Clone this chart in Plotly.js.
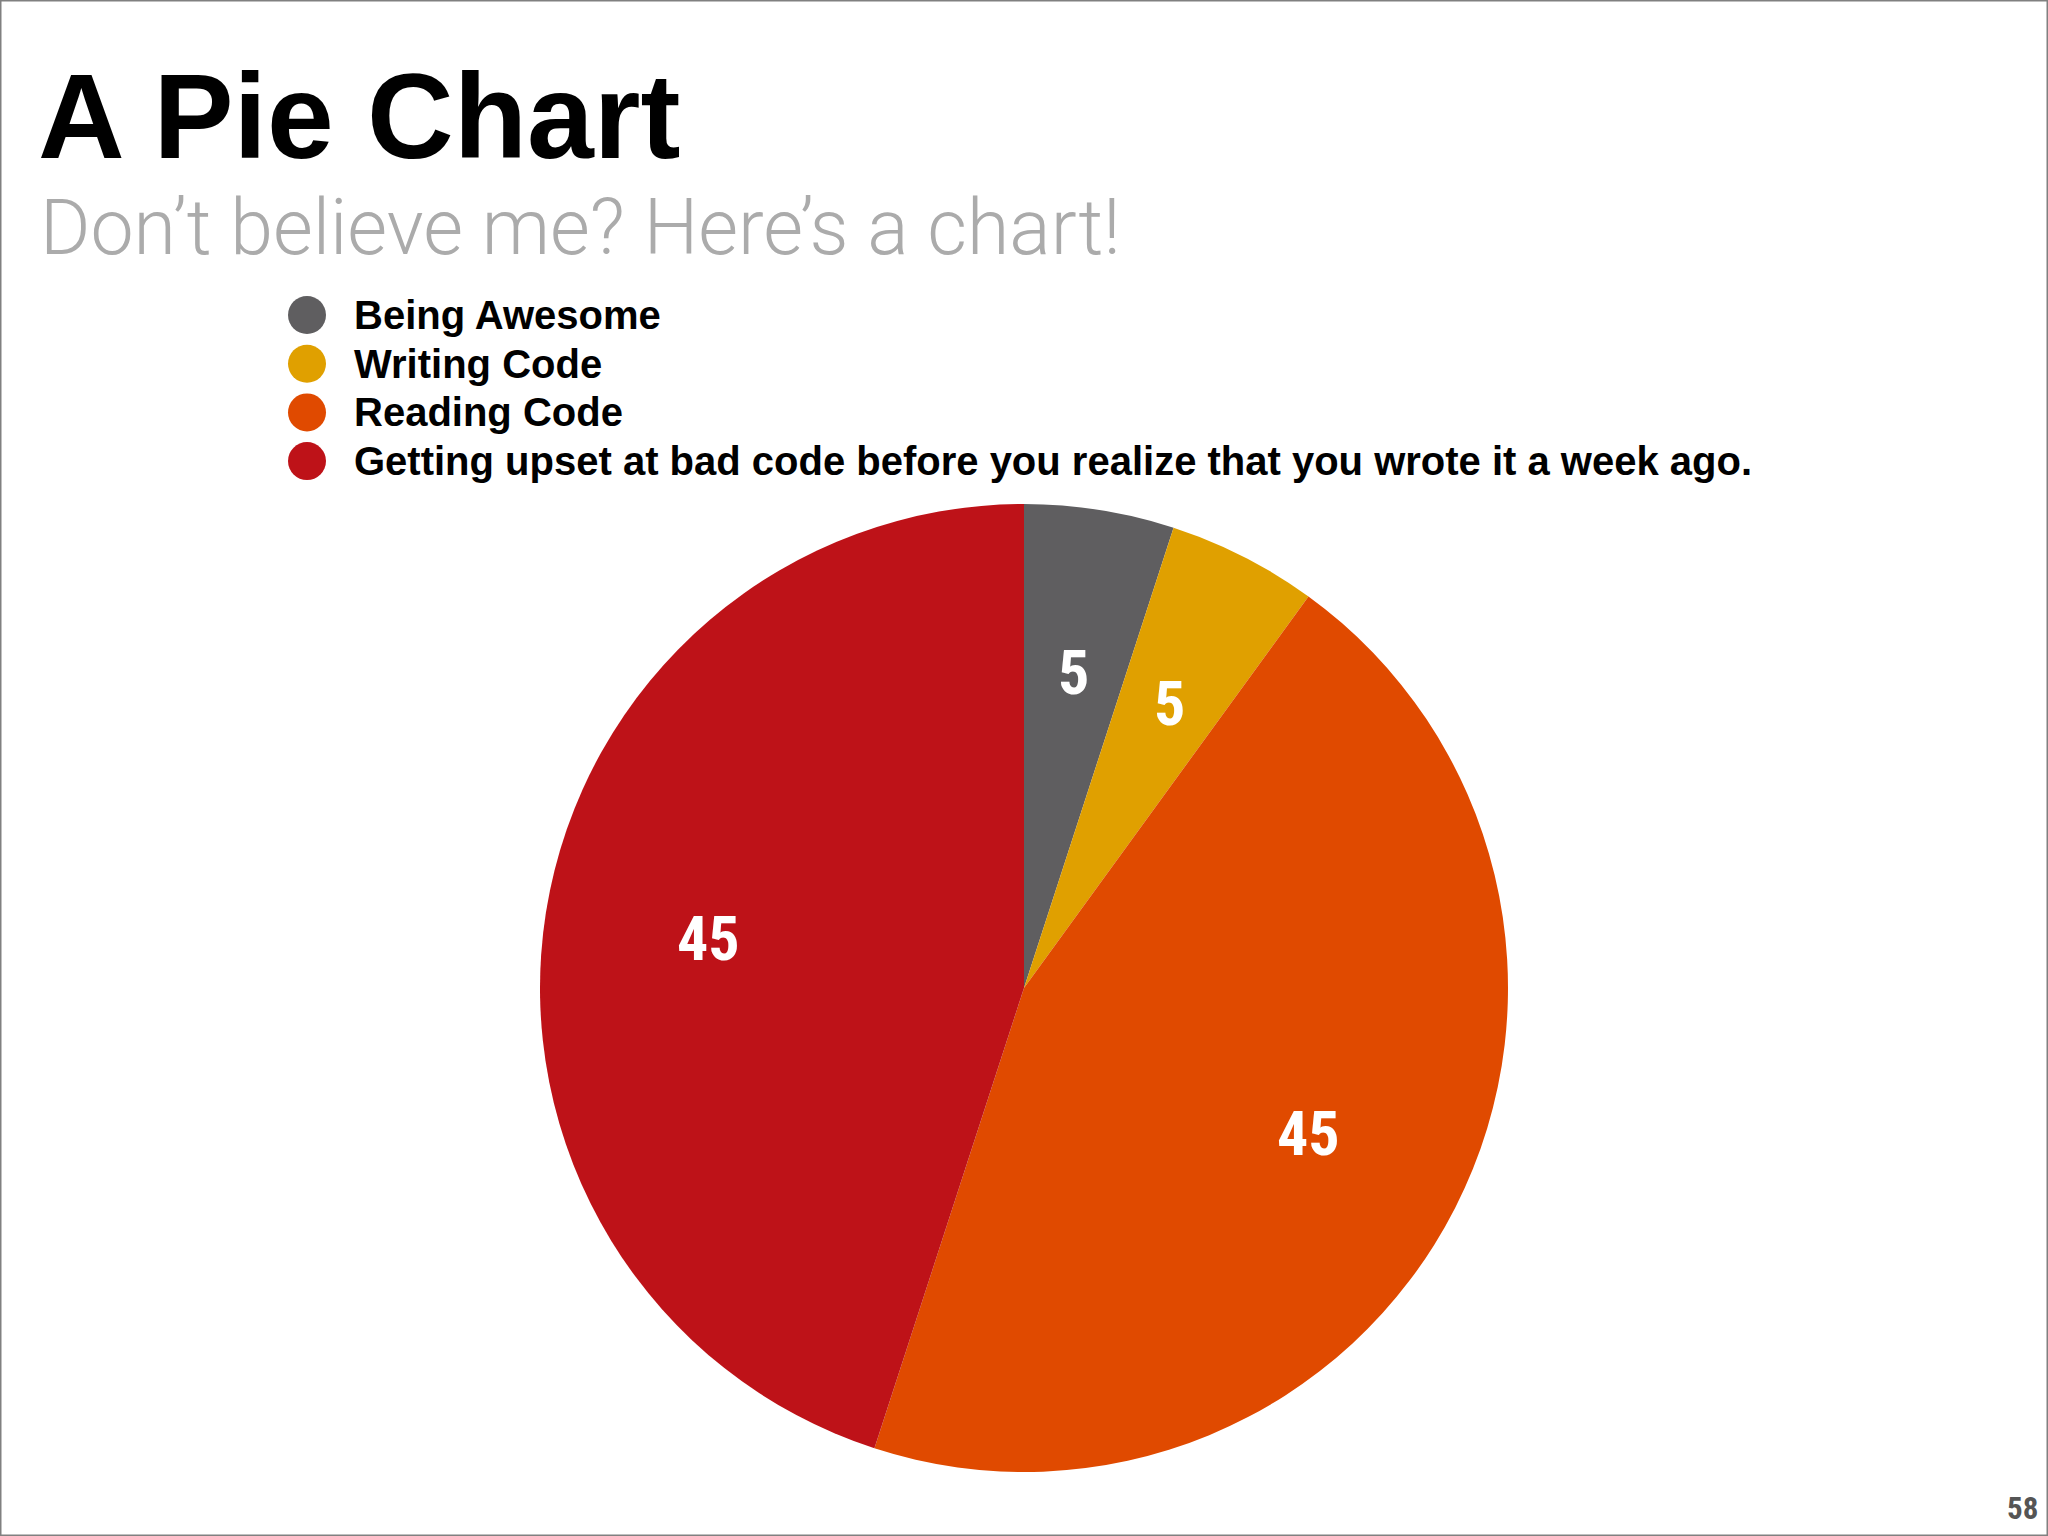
<!DOCTYPE html>
<html>
<head>
<meta charset="utf-8">
<script src="https://cdn.plot.ly/plotly-3.0.1.min.js"></script>
<style>
html,body{margin:0;padding:0;background:#fff;}
#chart{width:2048px;height:1536px;}
</style>
</head>
<body>
<div id="chart"></div>
<script>
const categories = ["Being Awesome", "Writing Code", "Reading Code", "Getting upset at bad code before you realize that you wrote it a week ago."];
const values = [5, 5, 45, 45];
const colors = ["#5f5e60", "#e0a000", "#e04a00", "#be1218"];
const titleText = "A Pie Chart";
const subtitleText = "Don\u2019t believe me? Here\u2019s a chart!";
const pageNumber = "58";

const W = 2048, H = 1536;
const px = x => x / W;
const py = y => 1 - y / H;

const condensed = "'Liberation Sans Narrow', 'Roboto Condensed', 'DejaVu Sans Condensed', sans-serif";

// pie geometry (pixels)
const pieX0 = 540, pieX1 = 1508, pieY0 = 504, pieY1 = 1472;
const pieCx = (pieX0 + pieX1) / 2, pieCy = (pieY0 + pieY1) / 2, pieR = (pieX1 - pieX0) / 2;
const labelRadiusFrac = 0.66;

const pie = {
  type: 'pie',
  labels: categories,
  values: values,
  sort: false,
  direction: 'clockwise',
  rotation: 0,
  marker: {colors: colors, line: {width: 0}},
  textinfo: 'none',
  hoverinfo: 'label+value',
  showlegend: false,
  domain: {x: [px(pieX0), px(pieX1)], y: [py(pieY1), py(pieY0)]}
};

const annotations = [
  {text: titleText, x: px(36), y: py(116), xref: 'paper', yref: 'paper', xanchor: 'left', yanchor: 'middle', showarrow: false,
   font: {family: "'Liberation Sans', Arial, sans-serif", size: 120, color: '#000', weight: 'bold'}},
  {text: subtitleText, x: px(38), y: py(228), xref: 'paper', yref: 'paper', xanchor: 'left', yanchor: 'middle', showarrow: false,
   font: {family: "Roboto, sans-serif", size: 77, color: '#ababab', weight: 300}},
  {text: pageNumber, x: px(2040), y: py(1508), xref: 'paper', yref: 'paper', xanchor: 'right', yanchor: 'middle', showarrow: false,
   font: {family: condensed, size: 31, color: '#555', weight: 'bold'}}
];

// slice value labels, placed at the middle angle of each slice (computed from the data)
const total = values.reduce((a, b) => a + b, 0);
let cum = 0;
values.forEach((v, i) => {
  const mid = (cum + v / 2) / total * 2 * Math.PI;
  cum += v;
  const lx = pieCx + pieR * labelRadiusFrac * Math.sin(mid);
  const ly = pieCy - pieR * labelRadiusFrac * Math.cos(mid);
  annotations.push({text: String(v), x: px(lx), y: py(ly), xref: 'paper', yref: 'paper', xanchor: 'center', yanchor: 'middle', showarrow: false,
    font: {family: condensed, size: 62, color: '#ffffff', weight: 'bold'}});
});

const shapes = [
  {type: 'rect', xref: 'paper', yref: 'paper', x0: 0, x1: 1, y0: 0, y1: 1, line: {color: '#808080', width: 3}, fillcolor: 'rgba(0,0,0,0)'}
];
const legendX = 307, legendY0 = 315, legendStep = 48.7, legendR = 19;
categories.forEach((c, i) => {
  const cy = legendY0 + i * legendStep;
  shapes.push({type: 'circle', xref: 'paper', yref: 'paper',
    x0: px(legendX - legendR), x1: px(legendX + legendR), y0: py(cy + legendR), y1: py(cy - legendR),
    fillcolor: colors[i], line: {width: 0}});
  annotations.push({text: c, x: px(352), y: py(cy), xref: 'paper', yref: 'paper', xanchor: 'left', yanchor: 'middle', showarrow: false,
    font: {family: "'Liberation Sans', Arial, sans-serif", size: 40, color: '#000', weight: 'bold'}});
});

const layout = {
  width: W, height: H,
  margin: {l: 0, r: 0, t: 0, b: 0},
  paper_bgcolor: '#fff',
  showlegend: false,
  annotations: annotations,
  shapes: shapes
};
Plotly.newPlot('chart', [pie], layout, {displayModeBar: false, staticPlot: true});
</script>
</body>
</html>
